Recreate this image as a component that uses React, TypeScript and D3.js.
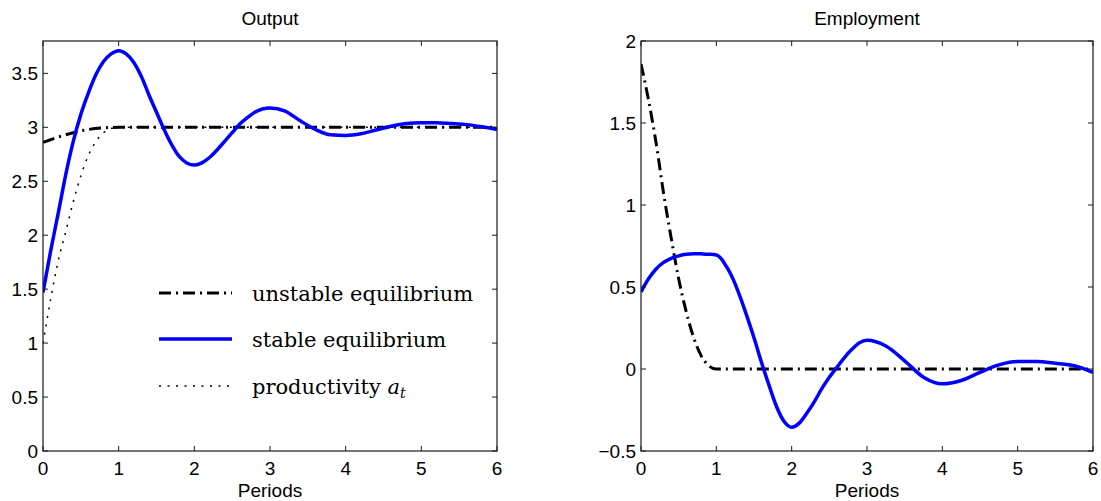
import React from "react";
import * as d3 from "d3";

// Output panel
const outStableT = [
  0, 0.1, 0.2, 0.3, 0.4, 0.5, 0.6, 0.7, 0.8, 0.9, 1.0, 1.1, 1.2, 1.3, 1.4, 1.5,
  1.6, 1.7, 1.8, 1.9, 2.0, 2.1, 2.2, 2.3, 2.4, 2.5, 2.6, 2.7, 2.8, 2.9, 3.0,
  3.2, 3.4, 3.6, 3.8, 4.0, 4.2, 4.4, 4.6, 4.8, 5.0, 5.2, 5.4, 5.6, 5.8, 6.0,
];
const outStable = [
  1.47, 1.85, 2.2, 2.56, 2.87, 3.12, 3.32, 3.49, 3.61, 3.68, 3.71, 3.68, 3.6,
  3.47, 3.3, 3.14, 2.98, 2.84, 2.73, 2.67, 2.65, 2.67, 2.72, 2.79, 2.87, 2.95,
  3.03, 3.09, 3.14, 3.17, 3.18, 3.15, 3.06, 2.98, 2.93, 2.925, 2.94, 2.975,
  3.01, 3.035, 3.043, 3.043, 3.035, 3.025, 3.005, 2.98,
];
const outUnstableT = [0, 0.2, 0.4, 0.6, 0.8, 1.0, 6.0];
const outUnstable = [2.86, 2.91, 2.95, 2.98, 2.995, 3.0, 3.0];
const prodT = [0, 0.1, 0.2, 0.3, 0.4, 0.5, 0.6, 0.7, 0.8, 0.9, 1.0, 6.0];
const prod = [1.0, 1.4, 1.76, 2.03, 2.31, 2.55, 2.74, 2.87, 2.95, 2.99, 3.0, 3.0];

// Employment panel
const empStableT = [
  0, 0.1, 0.2, 0.3, 0.4, 0.5, 0.6, 0.7, 0.8, 0.9, 1.0, 1.05, 1.1, 1.2, 1.3,
  1.4, 1.5, 1.6, 1.7, 1.8, 1.9, 2.0, 2.1, 2.2, 2.3, 2.4, 2.5, 2.6, 2.7, 2.8,
  2.9, 3.0, 3.25, 3.5, 3.75, 4.0, 4.25, 4.5, 4.75, 5.0, 5.25, 5.5, 5.75, 6.0,
];
const empStable = [
  0.47, 0.55, 0.61, 0.65, 0.675, 0.69, 0.7, 0.703, 0.702, 0.7, 0.695, 0.68,
  0.65, 0.57, 0.46, 0.33, 0.19, 0.04, -0.1, -0.23, -0.32, -0.355, -0.33, -0.27,
  -0.2, -0.12, -0.05, 0.01, 0.07, 0.12, 0.16, 0.175, 0.14, 0.05, -0.05, -0.09,
  -0.07, -0.02, 0.025, 0.045, 0.045, 0.035, 0.02, -0.02,
];
const empUnstableT = [0, 0.1, 0.2, 0.3, 0.4, 0.5, 0.6, 0.7, 0.8, 0.9, 1.0, 6.0];
const empUnstable = [1.86, 1.64, 1.38, 1.07, 0.8, 0.55, 0.35, 0.19, 0.08, 0.02, 0, 0];

const xTicks = [0, 1, 2, 3, 4, 5, 6];
const outYTicks = [0, 0.5, 1, 1.5, 2, 2.5, 3, 3.5];
const empYTicks = [-0.5, 0, 0.5, 1, 1.5, 2];

const SANS = "'Liberation Sans', Arial, Helvetica, sans-serif";
const SERIF = "'DejaVu Serif', 'Liberation Serif', serif";
const BLUE = "#0000ff";
const DASHDOT = "12,5,2,5";
const DOTTED = "2,6.5";

const TOP = 41;
const BOTTOM = 451;

type Series = { t: number[]; v: number[]; color: string; width: number; dash?: string };

function fmt(v: number) {
  return v < 0 ? "\u2212" + String(-v) : String(v);
}

function Panel({
  left,
  right,
  yDomain,
  yTicks,
  title,
  series,
  id,
}: {
  left: number;
  right: number;
  yDomain: [number, number];
  yTicks: number[];
  title: string;
  series: Series[];
  id: string;
}) {
  const x = d3.scaleLinear().domain([0, 6]).range([left, right]);
  const y = d3.scaleLinear().domain(yDomain).range([BOTTOM, TOP]);
  const line = d3
    .line<[number, number]>()
    .x((d) => x(d[0]))
    .y((d) => y(d[1]))
    .curve(d3.curveMonotoneX);

  return (
    <g>
      <defs>
        <clipPath id={id}>
          <rect x={left} y={TOP} width={right - left} height={BOTTOM - TOP} />
        </clipPath>
      </defs>
      <g clipPath={`url(#${id})`}>
        {series.map((s, i) => (
          <path
            key={i}
            d={line(s.t.map((t, j) => [t, s.v[j]] as [number, number])) || ""}
            fill="none"
            stroke={s.color}
            strokeWidth={s.width}
            strokeDasharray={s.dash}
          />
        ))}
      </g>
      <rect
        x={left}
        y={TOP}
        width={right - left}
        height={BOTTOM - TOP}
        fill="none"
        stroke="#1a1a1a"
        strokeWidth={1.2}
      />
      {xTicks.map((t) => (
        <g key={"x" + t}>
          <line x1={x(t)} x2={x(t)} y1={BOTTOM} y2={BOTTOM - 5} stroke="#1a1a1a" />
          <line x1={x(t)} x2={x(t)} y1={TOP} y2={TOP + 5} stroke="#1a1a1a" />
          <text
            x={x(t)}
            y={462}
            dy="0.71em"
            textAnchor="middle"
            fontFamily={SANS}
            fontSize={19}
          >
            {t}
          </text>
        </g>
      ))}
      {yTicks.map((v) => (
        <g key={"y" + v}>
          <line x1={left} x2={left + 5} y1={y(v)} y2={y(v)} stroke="#1a1a1a" />
          <line x1={right} x2={right - 5} y1={y(v)} y2={y(v)} stroke="#1a1a1a" />
          <text
            x={left - 5}
            y={y(v)}
            dy="0.35em"
            textAnchor="end"
            fontFamily={SANS}
            fontSize={19}
          >
            {fmt(v)}
          </text>
        </g>
      ))}
      <text
        x={(left + right) / 2}
        y={25}
        textAnchor="middle"
        fontFamily={SANS}
        fontSize={19}
      >
        {title}
      </text>
      <text
        x={(left + right) / 2}
        y={497}
        textAnchor="middle"
        fontFamily={SANS}
        fontSize={19}
      >
        Periods
      </text>
    </g>
  );
}

export default function App() {
  const legendRows = [
    { y: 293, color: "#000", width: 3, dash: DASHDOT, label: "unstable equilibrium" },
    { y: 339, color: BLUE, width: 3.5, dash: undefined, label: "stable equilibrium" },
    { y: 386, color: "#000", width: 1.5, dash: DOTTED, label: "productivity" },
  ];
  return (
    <div style={{ position: "fixed", left: 0, top: 0 }}>
      <svg width={1101} height={501} style={{ display: "block", background: "#fff" }}>
        <Panel
          id="clipOut"
          left={43}
          right={497}
          yDomain={[0, 3.8]}
          yTicks={outYTicks}
          title="Output"
          series={[
            { t: prodT, v: prod, color: "#000", width: 1.5, dash: DOTTED },
            { t: outUnstableT, v: outUnstable, color: "#000", width: 3, dash: DASHDOT },
            { t: outStableT, v: outStable, color: BLUE, width: 3.5 },
          ]}
        />
        <Panel
          id="clipEmp"
          left={641}
          right={1093}
          yDomain={[-0.5, 2]}
          yTicks={empYTicks}
          title="Employment"
          series={[
            { t: empUnstableT, v: empUnstable, color: "#000", width: 3, dash: DASHDOT },
            { t: empStableT, v: empStable, color: BLUE, width: 3.5 },
          ]}
        />
        {legendRows.map((r) => (
          <g key={r.label}>
            <line
              x1={159}
              x2={232}
              y1={r.y}
              y2={r.y}
              stroke={r.color}
              strokeWidth={r.width}
              strokeDasharray={r.dash}
            />
            <text x={252} y={r.y + 8} fontFamily={SERIF} fontSize={21}>
              {r.label}
              {r.label === "productivity" && (
                <>
                  <tspan fontStyle="italic"> a</tspan>
                  <tspan fontStyle="italic" fontSize={14} dy={4}>
                    t
                  </tspan>
                </>
              )}
            </text>
          </g>
        ))}
      </svg>
    </div>
  );
}
